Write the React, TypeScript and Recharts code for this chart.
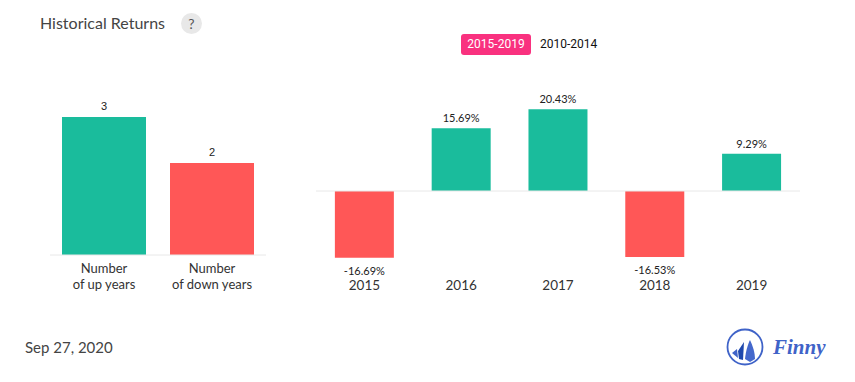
import { Bar, BarChart, Cell, LabelList, ReferenceLine, XAxis, YAxis } from 'recharts';

const UP = '#1abc9c';
const DOWN = '#ff5757';
const AXIS_LINE = '#e8e8e8';
const LATO = 'Lato, sans-serif';

const countLabels = ['Number\nof up years', 'Number\nof down years'];
const countValues = [3, 2];

const years = ['2015', '2016', '2017', '2018', '2019'];
const returns = [-16.69, 15.69, 20.43, -16.53, 9.29];

const countData = countLabels.map((label, i) => ({ label, value: countValues[i] }));
const returnData = years.map((year, i) => ({ year, value: returns[i] }));

function CountTick({ x, y, payload }: any) {
  return (
    <text x={x} y={y} textAnchor="middle" fontFamily={LATO} fontSize={13} fill="#333">
      {String(payload.value)
        .split('\n')
        .map((line, i) => (
          <tspan key={line} x={x} dy={i === 0 ? 10 : 16}>
            {line}
          </tspan>
        ))}
    </text>
  );
}

// y/height come through with a negative height on the down years
function ReturnLabel({ x, y, width, height, value }: any) {
  const top = Math.min(y, y + height);
  const bottom = Math.max(y, y + height);
  const baseline = value < 0 ? bottom + 17 : top - 6;
  return (
    <text x={x + width / 2} y={baseline} textAnchor="middle" fontFamily={LATO} fontSize={11} fill="#222">
      {value.toFixed(2)}%
    </text>
  );
}

function Logo() {
  return (
    <svg width={125} height={50} style={{ position: 'absolute', left: 720, top: 322 }}>
      <circle cx={25} cy={25} r={17.5} fill="none" stroke="#3f63c8" strokeWidth={1.8} />
      <path d="M12 31 L17 27 L18 36 Z" fill="#3f63c8" />
      <path d="M19 37 L18 29 L24 20 L23 38 Z" fill="#1f48ad" />
      <path d="M25 37 C26 28 28 22 30 18 C33 24 35 31 35 37 L30 40 Z" fill="#4468cc" />
      <text
        x={53}
        y={32}
        fontFamily="'Liberation Serif', serif"
        fontStyle="italic"
        fontWeight={700}
        fontSize={21}
        fill="#3f63c8"
      >
        Finny
      </text>
    </svg>
  );
}

export default function App() {
  return (
    <div
      style={{
        position: 'absolute',
        left: 0,
        top: 0,
        width: 855,
        height: 382,
        background: '#fff',
        overflow: 'hidden',
        fontFamily: LATO,
      }}
    >
      <div style={{ position: 'absolute', left: 40, top: 13, fontSize: 16, color: '#444' }}>Historical Returns</div>
      <div
        style={{
          position: 'absolute',
          left: 181,
          top: 13,
          width: 21,
          height: 21,
          borderRadius: '50%',
          background: '#e8e8e8',
          color: '#555',
          fontSize: 14,
          lineHeight: '21px',
          textAlign: 'center',
        }}
      >
        ?
      </div>

      <div
        style={{
          position: 'absolute',
          left: 461,
          top: 34,
          width: 70,
          height: 21,
          borderRadius: 3,
          background: '#f9317f',
          color: '#fff',
          fontFamily: 'Roboto, sans-serif',
          fontSize: 12,
          lineHeight: '21px',
          textAlign: 'center',
        }}
      >
        2015-2019
      </div>
      <div
        style={{
          position: 'absolute',
          left: 540,
          top: 34,
          color: '#111',
          fontFamily: 'Roboto, sans-serif',
          fontSize: 12,
          lineHeight: '21px',
        }}
      >
        2010-2014
      </div>

      <div style={{ position: 'absolute', left: 50, top: 100 }}>
        <BarChart
          width={216}
          height={200}
          data={countData}
          margin={{ top: 17, right: 0, bottom: 15, left: 0 }}
          barCategoryGap={12}
        >
          <XAxis
            dataKey="label"
            tickLine={false}
            axisLine={{ stroke: AXIS_LINE, strokeWidth: 1 }}
            tick={<CountTick />}
            interval={0}
            height={30}
          />
          <YAxis hide domain={[0, 3]} />
          <Bar dataKey="value" isAnimationActive={false}>
            <Cell fill={UP} />
            <Cell fill={DOWN} />
            <LabelList dataKey="value" position="top" offset={7} fontSize={11} fill="#222" fontFamily="'Liberation Sans', sans-serif" />
          </Bar>
        </BarChart>
      </div>

      <div style={{ position: 'absolute', left: 316, top: 71 }}>
        <BarChart
          width={484}
          height={230}
          data={returnData}
          margin={{ top: 20, right: 0, bottom: 0, left: 0 }}
          barCategoryGap="19.5%"
        >
          <XAxis
            dataKey="year"
            tickLine={false}
            axisLine={false}
            tickMargin={3}
            tick={{ fontSize: 13.5, fontFamily: LATO, fill: '#333' }}
            interval={0}
            height={30}
          />
          <YAxis hide domain={[-20, 25]} />
          <ReferenceLine y={0} stroke={AXIS_LINE} strokeWidth={1} />
          <Bar dataKey="value" isAnimationActive={false}>
            {returnData.map((d) => (
              <Cell key={d.year} fill={d.value >= 0 ? UP : DOWN} />
            ))}
            <LabelList dataKey="value" content={<ReturnLabel />} />
          </Bar>
        </BarChart>
      </div>

      <div style={{ position: 'absolute', left: 25, top: 338, fontSize: 15, color: '#444' }}>Sep 27, 2020</div>
      <Logo />
    </div>
  );
}
